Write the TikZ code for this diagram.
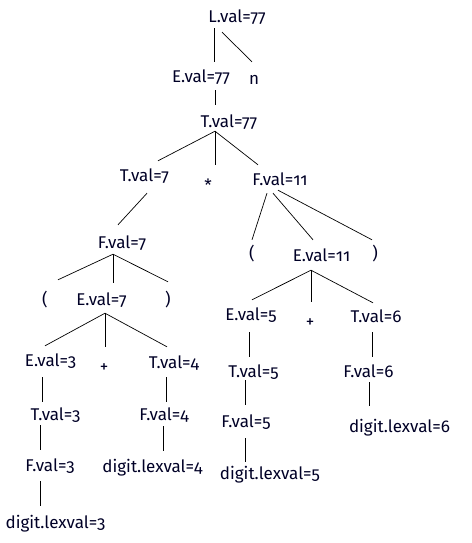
\documentclass[tikz,border=0pt]{standalone}
\usepackage{fontspec}
\setmainfont{Fira Sans}[Numbers=OldStyle]
\usepackage{tikz}
\usetikzlibrary{positioning}

\begin{document}
\begin{tikzpicture}[x=1pt, y=-1pt]
    \tikzstyle{attr} = [inner sep=0pt, anchor=base, text height=13pt, text depth=4pt,
        font=\fontsize{17}{20}\selectfont, text=black!85!blue]
    \tikzstyle{sym} = [attr]
    \tikzstyle{edge} = [draw, line width=0.7pt]

    \useasboundingbox (0,0) rectangle (471,543);

    % nodes
    \node [attr] (L) at (237,23) {L.val=77};
    \node [attr] (E77) at (201,82) {E.val=77};
    \node [sym] (n) at (254,84) {n};
    \node [attr] (T77) at (229,127) {T.val=77};
    \node [attr] (T7) at (144.5,181) {T.val=7};
    \node [sym] (star) at (208,191) {*};
    \node [attr] (F11) at (280,185) {F.val=11};
    \node [attr] (F7) at (122,248) {F.val=7};
    \node [sym] (lpA) at (252,259) {(};
    \node [attr] (E11) at (321.5,261) {E.val=11};
    \node [sym] (rpA) at (375,259) {)};
    \node [sym] (lpB) at (45,305) {(};
    \node [attr] (E7) at (101.5,305) {E.val=7};
    \node [sym] (rpB) at (168,305) {)};
    \node [attr] (E3) at (50.5,366) {E.val=3};
    \node [sym] (plusA) at (104,372) {+};
    \node [attr] (T4) at (174,368) {T.val=4};
    \node [attr] (T3) at (55.5,420) {T.val=3};
    \node [attr] (F4) at (164,420) {F.val=4};
    \node [attr] (F3) at (50,471) {F.val=3};
    \node [attr] (d4) at (152.5,472) {digit.lexval=4};
    \node [attr] (d3) at (55.5,528) {digit.lexval=3};
    \node [attr] (E5) at (251,320) {E.val=5};
    \node [sym] (plusB) at (310,327) {+};
    \node [attr] (T6) at (376,322) {T.val=6};
    \node [attr] (T5) at (253.5,377) {T.val=5};
    \node [attr] (F6) at (368.5,377) {F.val=6};
    \node [attr] (F5) at (246,427) {F.val=5};
    \node [attr] (d6) at (399.5,432) {digit.lexval=6};
    \node [attr] (d5) at (270,479) {digit.lexval=5};

    % edges
    \path [edge] ([shift={(-23,1)}]L.south) -- ([shift={(13,-7)}]E77.north);
    \path [edge] ([shift={(-15,5)}]L.south) -- ([shift={(-2,-9)}]n.north);
    \path [edge] ([shift={(14,4)}]E77.south) -- ([shift={(-14,-9)}]T77.north);
    \path [edge] ([shift={(-14,0)}]T77.south) -- ([shift={(13.5,-7)}]T7.north);
    \path [edge] ([shift={(-14,0)}]T77.south) -- ([shift={(7,-13)}]star.north);
    \path [edge] ([shift={(-14,0)}]T77.south) -- ([shift={(-22,-7)}]F11.north);
    \path [edge] ([shift={(2.5,8)}]T7.south) -- ([shift={(-4,-10)}]F7.north);
    \path [edge] ([shift={(-13,4)}]F11.south) -- ([shift={(0,-6)}]lpA.north);
    \path [edge] ([shift={(-7,4)}]F11.south) -- ([shift={(-8.5,-8)}]E11.north);
    \path [edge] ([shift={(-2,1)}]F11.south) -- ([shift={(-3,-6)}]rpA.north);
    \path [edge] ([shift={(-9,2)}]F7.south) -- ([shift={(13,-12)}]lpB.north);
    \path [edge] ([shift={(-9,2)}]F7.south) -- ([shift={(11.5,-9)}]E7.north);
    \path [edge] ([shift={(-9,2)}]F7.south) -- ([shift={(0,-10)}]rpB.north);
    \path [edge] ([shift={(3.5,4)}]E7.south) -- ([shift={(-5.5,-7)}]E3.north);
    \path [edge] ([shift={(3.5,4)}]E7.south) -- ([shift={(1,-12)}]plusA.north);
    \path [edge] ([shift={(3.5,4)}]E7.south) -- ([shift={(-7,-8)}]T4.north);
    \path [edge] ([shift={(-8.5,7)}]E3.south) -- ([shift={(-13.5,-5)}]T3.north);
    \path [edge] ([shift={(-15.5,1)}]T3.south) -- ([shift={(-10,-8)}]F3.north);
    \path [edge] ([shift={(-10,6)}]F3.south) -- ([shift={(-15.5,-9)}]d3.north);
    \path [edge] ([shift={(-8,5)}]T4.south) -- ([shift={(2,-5)}]F4.north);
    \path [edge] ([shift={(-1,2)}]F4.south) -- ([shift={(10.5,-8)}]d4.north);
    \path [edge] ([shift={(-10.5,5)}]E11.south) -- ([shift={(1,-7)}]E5.north);
    \path [edge] ([shift={(-10.5,5)}]E11.south) -- ([shift={(1,-12)}]plusB.north);
    \path [edge] ([shift={(-10.5,5)}]E11.south) -- ([shift={(-3,-6)}]T6.north);
    \path [edge] ([shift={(-2,8)}]E5.south) -- ([shift={(-4.5,-7)}]T5.north);
    \path [edge] ([shift={(-8.5,-1)}]T5.south) -- ([shift={(-1,-9)}]F5.north);
    \path [edge] ([shift={(-1,7)}]F5.south) -- ([shift={(-25,-4)}]d5.north);
    \path [edge] ([shift={(-4,6)}]T6.south) -- ([shift={(3.5,-7)}]F6.north);
    \path [edge] ([shift={(0.5,1)}]F6.south) -- ([shift={(-30.5,-13)}]d6.north);
\end{tikzpicture}
\end{document}
